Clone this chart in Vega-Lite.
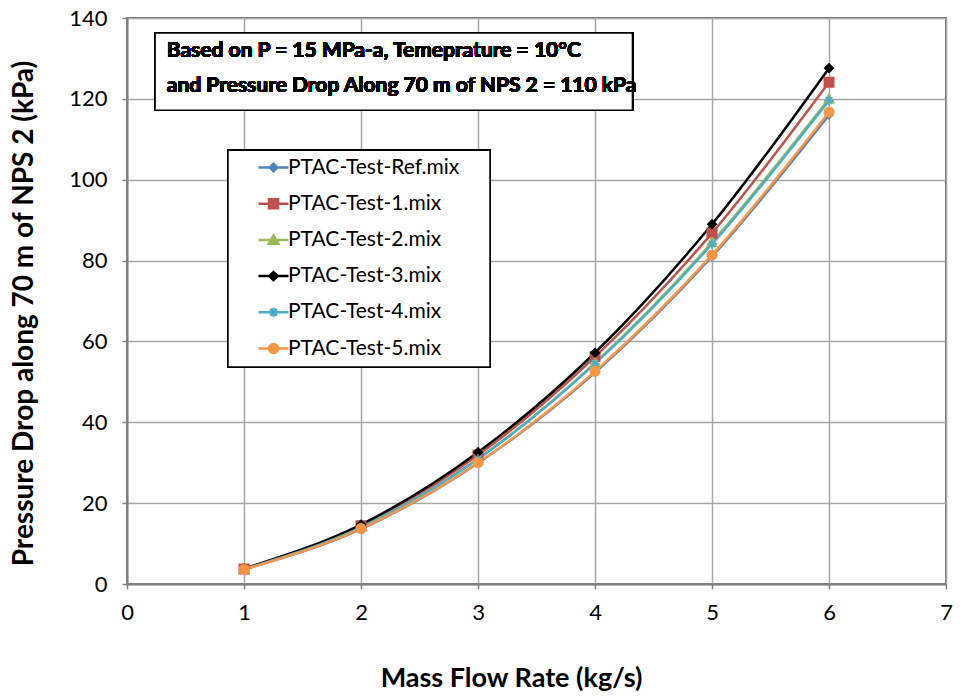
{
  "$schema": "https://vega.github.io/schema/vega-lite/v6.json",
  "width": 819,
  "height": 566,
  "autosize": {"type": "none"},
  "padding": {"left": 127, "top": 18, "right": 17, "bottom": 114},
  "background": "white",
  "config": {
    "font": "Lato",
    "view": {"stroke": "#707070", "strokeWidth": 2},
    "axis": {
      "labelFont": "Lato", "labelFontSize": 22, "labelColor": "#000",
      "titleFont": "Lato", "titleFontSize": 27, "titleFontWeight": "bold", "titleColor": "#000",
      "gridColor": "#a6a6a6", "gridWidth": 1.5,
      "domainColor": "#808080", "domainWidth": 2,
      "tickColor": "#808080", "tickSize": 5, "tickWidth": 1.5
    }
  },
  "data": {"values": [
    {"x": 1, "y": 3.6, "series": "PTAC-Test-Ref.mix"},
    {"x": 2, "y": 13.6, "series": "PTAC-Test-Ref.mix"},
    {"x": 3, "y": 29.9, "series": "PTAC-Test-Ref.mix"},
    {"x": 4, "y": 52.3, "series": "PTAC-Test-Ref.mix"},
    {"x": 5, "y": 81.0, "series": "PTAC-Test-Ref.mix"},
    {"x": 6, "y": 116.0, "series": "PTAC-Test-Ref.mix"},
    {"x": 1, "y": 3.7, "series": "PTAC-Test-1.mix"},
    {"x": 2, "y": 14.4, "series": "PTAC-Test-1.mix"},
    {"x": 3, "y": 31.9, "series": "PTAC-Test-1.mix"},
    {"x": 4, "y": 56.2, "series": "PTAC-Test-1.mix"},
    {"x": 5, "y": 86.8, "series": "PTAC-Test-1.mix"},
    {"x": 6, "y": 124.1, "series": "PTAC-Test-1.mix"},
    {"x": 1, "y": 3.7, "series": "PTAC-Test-2.mix"},
    {"x": 2, "y": 14.1, "series": "PTAC-Test-2.mix"},
    {"x": 3, "y": 31.0, "series": "PTAC-Test-2.mix"},
    {"x": 4, "y": 54.7, "series": "PTAC-Test-2.mix"},
    {"x": 5, "y": 84.5, "series": "PTAC-Test-2.mix"},
    {"x": 6, "y": 120.0, "series": "PTAC-Test-2.mix"},
    {"x": 1, "y": 3.8, "series": "PTAC-Test-3.mix"},
    {"x": 2, "y": 14.7, "series": "PTAC-Test-3.mix"},
    {"x": 3, "y": 32.6, "series": "PTAC-Test-3.mix"},
    {"x": 4, "y": 57.2, "series": "PTAC-Test-3.mix"},
    {"x": 5, "y": 89.0, "series": "PTAC-Test-3.mix"},
    {"x": 6, "y": 127.6, "series": "PTAC-Test-3.mix"},
    {"x": 1, "y": 3.7, "series": "PTAC-Test-4.mix"},
    {"x": 2, "y": 14.0, "series": "PTAC-Test-4.mix"},
    {"x": 3, "y": 30.9, "series": "PTAC-Test-4.mix"},
    {"x": 4, "y": 54.5, "series": "PTAC-Test-4.mix"},
    {"x": 5, "y": 84.1, "series": "PTAC-Test-4.mix"},
    {"x": 6, "y": 119.6, "series": "PTAC-Test-4.mix"},
    {"x": 1, "y": 3.6, "series": "PTAC-Test-5.mix"},
    {"x": 2, "y": 13.7, "series": "PTAC-Test-5.mix"},
    {"x": 3, "y": 30.0, "series": "PTAC-Test-5.mix"},
    {"x": 4, "y": 52.6, "series": "PTAC-Test-5.mix"},
    {"x": 5, "y": 81.4, "series": "PTAC-Test-5.mix"},
    {"x": 6, "y": 116.7, "series": "PTAC-Test-5.mix"}
  ]},
  "resolve": {"scale": {"shape": "independent", "fill": "independent", "stroke": "independent"}},
  "encoding": {
    "x": {"field": "x", "type": "quantitative",
      "scale": {"domain": [0, 7], "nice": false, "zero": true},
      "axis": {"values": [0,1,2,3,4,5,6,7], "title": "Mass Flow Rate (kg/s)", "labelPadding": 13, "titlePadding": 42, "titleX": 384, "labelFlush": false}},
    "y": {"field": "y", "type": "quantitative",
      "scale": {"domain": [0, 140], "nice": false},
      "axis": {"values": [0,20,40,60,80,100,120,140], "title": "Pressure Drop along 70 m of NPS 2 (kPa)", "titleFontSize": 28, "labelPadding": 15, "titlePadding": 30, "titleY": 295, "labelFlush": false}}
  },
  "layer": [
    {
      "mark": {"type": "line", "interpolate": "monotone", "strokeWidth": 2.5},
      "encoding": {
        "stroke": {"field": "series", "type": "nominal", "legend": null,
          "scale": {"domain": ["PTAC-Test-Ref.mix","PTAC-Test-1.mix","PTAC-Test-2.mix","PTAC-Test-3.mix","PTAC-Test-4.mix","PTAC-Test-5.mix"],
                    "range": ["#4F81BD","#C0504D","#9BBB59","#000000","#4BACC6","#F79646"]}}
      }
    },
    {
      "mark": {"type": "point", "filled": true, "size": 90, "strokeWidth": 1.5, "opacity": 1},
      "encoding": {
        "stroke": {"field": "series", "type": "nominal", "legend": null,
          "scale": {"domain": ["PTAC-Test-Ref.mix","PTAC-Test-1.mix","PTAC-Test-2.mix","PTAC-Test-3.mix","PTAC-Test-4.mix","PTAC-Test-5.mix"],
                    "range": ["#4F81BD","#C0504D","#9BBB59","#000000","#4BACC6","#F79646"]}},
        "fill": {"field": "series", "type": "nominal", "legend": null,
          "scale": {"domain": ["PTAC-Test-Ref.mix","PTAC-Test-1.mix","PTAC-Test-2.mix","PTAC-Test-3.mix","PTAC-Test-4.mix","PTAC-Test-5.mix"],
                    "range": ["#4F81BD","#C0504D","#9BBB59","#000000","#4BACC6","#F79646"]}},
        "shape": {"field": "series", "type": "nominal", "legend": null,
          "scale": {"domain": ["PTAC-Test-Ref.mix","PTAC-Test-1.mix","PTAC-Test-2.mix","PTAC-Test-3.mix","PTAC-Test-4.mix","PTAC-Test-5.mix"],
                    "range": ["M-0.8,0L0,-0.8L0.8,0L0,0.8Z", "M-1,-1H1V1H-1Z", "M0,-1L1,0.8H-1Z", "M-0.9,0L0,-0.9L0.9,0L0,0.9Z", "M-1,0H1M0,-1V1M-0.7,-0.7L0.7,0.7M-0.7,0.7L0.7,-0.7", "M-1,0A1,1 0 1,0 1,0A1,1 0 1,0 -1,0Z"]}}
      }
    },
    {
      "mark": {"type": "rect", "fill": "white", "stroke": "#000", "strokeWidth": 1.5},
      "encoding": {
        "x": {"datum": 0.863}, "x2": {"datum": 3.103},
        "y": {"datum": 107.3}, "y2": {"datum": 53.7}
      }
    },
    {
      "transform": [{"filter": "false"}],
      "mark": {"type": "point", "filled": true, "strokeWidth": 2.5},
      "encoding": {
        "stroke": {"field": "series", "type": "nominal",
          "scale": {"domain": ["PTAC-Test-Ref.mix","PTAC-Test-1.mix","PTAC-Test-2.mix","PTAC-Test-3.mix","PTAC-Test-4.mix","PTAC-Test-5.mix"],
                    "range": ["#4F81BD","#C0504D","#9BBB59","#000000","#4BACC6","#F79646"]},
          "legend": {"title": null, "orient": "none", "legendX": 130, "legendY": 133}},
        "fill": {"field": "series", "type": "nominal",
          "scale": {"domain": ["PTAC-Test-Ref.mix","PTAC-Test-1.mix","PTAC-Test-2.mix","PTAC-Test-3.mix","PTAC-Test-4.mix","PTAC-Test-5.mix"],
                    "range": ["#4F81BD","#C0504D","#9BBB59","#000000","#4BACC6","#F79646"]},
          "legend": {"title": null, "orient": "none", "legendX": 130, "legendY": 133}},
        "shape": {"field": "series", "type": "nominal",
          "scale": {"domain": ["PTAC-Test-Ref.mix","PTAC-Test-1.mix","PTAC-Test-2.mix","PTAC-Test-3.mix","PTAC-Test-4.mix","PTAC-Test-5.mix"],
                    "range": [
                      "M-1,0H1M-0.25,0L0,-0.25L0.25,0L0,0.25Z",
                      "M-1,0H1M-0.3,-0.3H0.3V0.3H-0.3Z",
                      "M-1,0H1M0,-0.3L0.32,0.25H-0.32Z",
                      "M-1,0H1M-0.27,0L0,-0.27L0.27,0L0,0.27Z",
                      "M-1,0H1M0,-0.3V0.3M-0.22,-0.22L0.22,0.22M-0.22,0.22L0.22,-0.22",
                      "M-1,0H1M-0.3,0A0.3,0.3 0 1,0 0.3,0A0.3,0.3 0 1,0 -0.3,0Z"]},
          "legend": {
            "title": null, "orient": "none", "legendX": 130, "legendY": 133,
            "padding": 0,
            "symbolSize": 900, "symbolStrokeWidth": 2.5, "symbolOpacity": 1,
            "labelFont": "Lato", "labelFontSize": 21, "labelColor": "#000", "labelLimit": 400,
            "labelOffset": -2, "rowPadding": 9.2
          }
        }
      }
    },
    {
      "mark": {"type": "rect", "fill": "white", "stroke": "#000", "strokeWidth": 1.5},
      "encoding": {
        "x": {"datum": 0.24}, "x2": {"datum": 4.32},
        "y": {"datum": 136.3}, "y2": {"datum": 117.2}
      }
    },
    {
      "mark": {"type": "text", "text": "Based on P = 15 MPa-a, Temeprature = 10\u00b0C", "align": "left", "baseline": "middle", "font": "Lato", "fontSize": 21, "fontWeight": "bold", "color": "#000"},
      "encoding": {"x": {"datum": 0.34}, "y": {"datum": 131.8}}
    },
    {
      "mark": {"type": "text", "text": "and Pressure Drop Along 70 m of NPS 2 = 110 kPa", "align": "left", "baseline": "middle", "font": "Lato", "fontSize": 21, "fontWeight": "bold", "color": "#000"},
      "encoding": {"x": {"datum": 0.34}, "y": {"datum": 123.2}}
    }
  ]
}
